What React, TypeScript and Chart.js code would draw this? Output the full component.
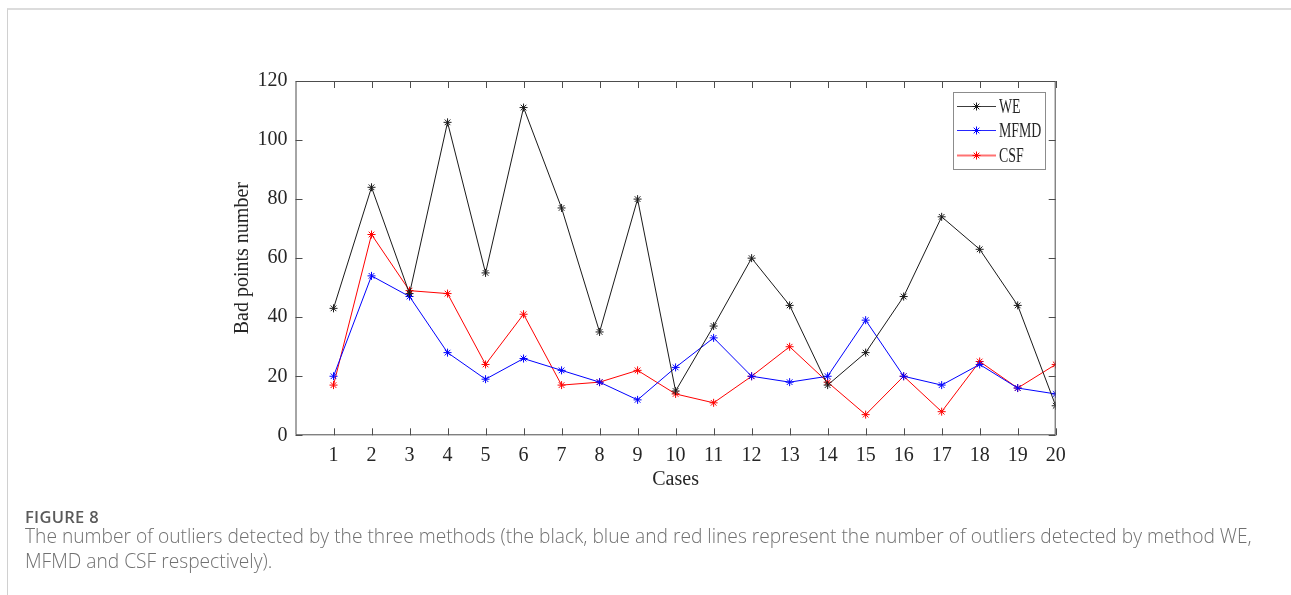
import React, { useEffect, useRef } from "react";
import { Chart, registerables } from "chart.js";

Chart.register(...registerables);

const cases = [1, 2, 3, 4, 5, 6, 7, 8, 9, 10, 11, 12, 13, 14, 15, 16, 17, 18, 19, 20];
const weValues = [43, 84, 48, 106, 55, 111, 77, 35, 80, 15, 37, 60, 44, 17, 28, 47, 74, 63, 44, 10];
const mfmdValues = [20, 54, 47, 28, 19, 26, 22, 18, 12, 23, 33, 20, 18, 20, 39, 20, 17, 24, 16, 14];
const csfValues = [17, 68, 49, 48, 24, 41, 17, 18, 22, 14, 11, 20, 30, 18, 7, 20, 8, 25, 16, 24];
const seriesNames = ["WE", "MFMD", "CSF"];
const seriesColors = ["#1a1a1a", "#0000ff", "#ff0000"];
const yTicks = [0, 20, 40, 60, 80, 100, 120];

const AXIS_COLOR = "#4d4d4d";
const TEXT_COLOR = "#262626";
const SERIF = "'Liberation Serif', 'Times New Roman', serif";

const boxPlugin = {
  id: "matlabBox",
  afterDraw(chart: any) {
    const { ctx, chartArea } = chart;
    const { left, right, top, bottom } = chartArea;
    const xs = chart.scales.x;
    const ys = chart.scales.y;
    const tl = 7;
    ctx.save();
    ctx.strokeStyle = AXIS_COLOR;
    ctx.lineWidth = 1;
    ctx.beginPath();
    ctx.rect(left + 0.5, top + 0.5, right - left - 1, bottom - top - 1);
    ctx.stroke();
    ctx.beginPath();
    cases.forEach((c) => {
      const px = Math.round(xs.getPixelForValue(c)) + 0.5;
      ctx.moveTo(px, bottom);
      ctx.lineTo(px, bottom - tl);
      ctx.moveTo(px, top);
      ctx.lineTo(px, top + tl);
    });
    yTicks.forEach((v) => {
      const py = Math.round(ys.getPixelForValue(v)) + 0.5;
      ctx.moveTo(left, py);
      ctx.lineTo(left + tl, py);
      ctx.moveTo(right, py);
      ctx.lineTo(right - tl, py);
    });
    ctx.stroke();

    // legend
    const bx = 953, by = 92, bw = 92, bh = 77;
    ctx.fillStyle = "#ffffff";
    ctx.fillRect(bx, by, bw, bh);
    ctx.strokeStyle = "#8c8c8c";
    ctx.strokeRect(bx + 0.5, by + 0.5, bw, bh);
    const rows = [105.7, 130.3, 155];
    seriesNames.forEach((name, i) => {
      const y = Math.round(rows[i]) + 0.5;
      ctx.strokeStyle = seriesColors[i];
      ctx.globalAlpha = i === 2 ? 0.55 : 0.85;
      ctx.lineWidth = i === 2 ? 2 : 1;
      ctx.beginPath();
      ctx.moveTo(957, y);
      ctx.lineTo(996, y);
      ctx.stroke();
      ctx.globalAlpha = 1;
      ctx.lineWidth = 1;
      const mx = 976.5, r = 4;
      ctx.beginPath();
      ctx.moveTo(mx - r, y); ctx.lineTo(mx + r, y);
      ctx.moveTo(mx, y - r); ctx.lineTo(mx, y + r);
      const d = r * 0.707;
      ctx.moveTo(mx - d, y - d); ctx.lineTo(mx + d, y + d);
      ctx.moveTo(mx - d, y + d); ctx.lineTo(mx + d, y - d);
      ctx.stroke();
      ctx.save();
      ctx.translate(999, y);
      ctx.scale(0.66, 1);
      ctx.fillStyle = TEXT_COLOR;
      ctx.font = `21px ${SERIF}`;
      ctx.textBaseline = "middle";
      ctx.textAlign = "left";
      ctx.fillText(name, 0, 1);
      ctx.restore();
    });
    ctx.restore();
  },
};

export default function App() {
  const canvasRef = useRef<HTMLCanvasElement | null>(null);

  useEffect(() => {
    const canvas = canvasRef.current;
    if (!canvas) return;
    const allValues = [weValues, mfmdValues, csfValues];
    const chart = new Chart(canvas, {
      type: "line",
      data: {
        datasets: seriesNames.map((name, i) => ({
          label: name,
          data: allValues[i].map((v, j) => ({ x: cases[j], y: v })),
          borderColor: seriesColors[i],
          backgroundColor: seriesColors[i],
          borderWidth: 1,
          pointStyle: "star",
          pointRadius: 4,
          pointBorderWidth: 1,
          pointBorderColor: seriesColors[i],
          pointHoverRadius: 4,
          tension: 0,
          fill: false,
        })),
      },
      options: {
        animation: false,
        responsive: false,
        events: [],
        layout: { padding: { left: 225, right: 235.3, top: 81, bottom: 103 } },
        plugins: { legend: { display: false }, tooltip: { enabled: false } },
        scales: {
          x: {
            type: "linear",
            min: 0,
            max: 20,
            afterFit: (s: any) => { s.height = 56.7; },
            grid: { display: true, drawOnChartArea: false, drawTicks: false },
            border: { display: false },
            ticks: {
              stepSize: 1,
              autoSkip: false,
              maxRotation: 0,
              padding: 8,
              color: TEXT_COLOR,
              font: { family: SERIF, size: 20 },
              callback: (v: any) => (v === 0 ? "" : String(v)),
            },
            title: {
              display: true,
              text: "Cases",
              color: TEXT_COLOR,
              font: { family: SERIF, size: 20 },
              padding: { top: 0, bottom: 0 },
            },
          },
          y: {
            type: "linear",
            min: 0,
            max: 120,
            afterFit: (s: any) => { s.width = 70.5; },
            grid: { display: true, drawOnChartArea: false, drawTicks: false },
            border: { display: false },
            ticks: {
              stepSize: 20,
              padding: 8,
              color: TEXT_COLOR,
              font: { family: SERIF, size: 20 },
            },
            title: {
              display: true,
              text: "Bad points number",
              color: TEXT_COLOR,
              font: { family: SERIF, size: 20 },
              padding: { top: 6, bottom: 0 },
            },
          },
        },
      },
      plugins: [boxPlugin],
    } as any);
    return () => chart.destroy();
  }, []);

  return (
    <div style={{ position: "relative", width: 1275, height: 579 }}>
      <div
        style={{
          position: "fixed",
          left: 7,
          top: 8,
          right: 0,
          bottom: 0,
          borderTop: "2px solid #dcdcdc",
          borderLeft: "1px solid #d0d0d0",
        }}
      />
      <canvas
        ref={canvasRef}
        width={1291}
        height={595}
        style={{ position: "absolute", left: -8, top: -8, width: 1291, height: 595 }}
      />
      <div
        style={{
          position: "absolute",
          left: 17,
          top: 497,
          fontFamily: "'Open Sans', 'Noto Sans', sans-serif",
          fontSize: 16.5,
          fontWeight: 600,
          color: "#5a5a5a",
          letterSpacing: 0.3,
        }}
      >
        FIGURE 8
      </div>
      <div
        style={{
          position: "absolute",
          left: 17,
          top: 515,
          width: 1270,
          fontFamily: "'Open Sans', 'Noto Sans', sans-serif",
          fontSize: 19.2,
          fontWeight: 300,
          lineHeight: "25px",
          color: "#707070",
          whiteSpace: "nowrap",
        }}
      >
        The number of outliers detected by the three methods (the black, blue and red lines represent the number of outliers detected by method WE,
        <br />
        MFMD and CSF respectively).
      </div>
    </div>
  );
}
